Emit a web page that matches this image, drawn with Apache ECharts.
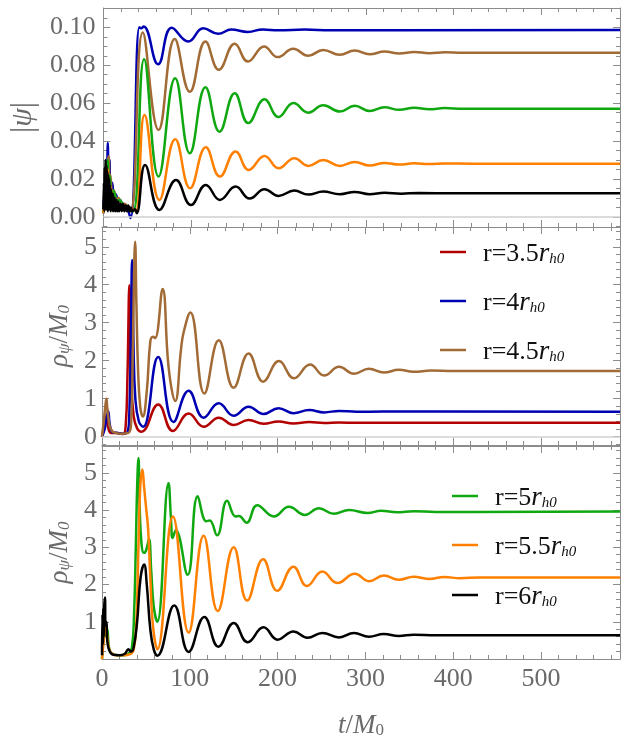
<!DOCTYPE html>
<html><head><meta charset="utf-8">
<script src="https://cdn.jsdelivr.net/npm/echarts@6/dist/echarts.min.js"></script>
<style>html,body{margin:0;padding:0;background:#fff}#c{width:621px;height:740px}</style>
</head><body><div id="c"></div>
<script>
// ---------------- data ----------------
const tickX = [0, 100, 200, 300, 400, 500];
const tickXLabels = ['0', '100', '200', '300', '400', '500'];
const tickPsi = [0, 0.02, 0.04, 0.06, 0.08, 0.10];
const tickPsiLabels = ['0.00', '0.02', '0.04', '0.06', '0.08', '0.10'];
const tickRhoMid = [0, 1, 2, 3, 4, 5];
const tickRhoBot = [1, 2, 3, 4, 5];

const legendNumbers = ['3.5', '4', '4.5', '5', '5.5', '6'];
const seriesNames = ['r=3.5rh0', 'r=4rh0', 'r=4.5rh0', 'r=5rh0', 'r=5.5rh0', 'r=6rh0'];

// |psi| panel  ([t/M0, |psi|])
const psi_r4 = [[0,0.002],[1,0.012],[2,0.006],[3,0.022],[4,0.012],[5,0.039],[6,0.016],[7,0.03],[8,0.014],[10,0.018],[12,0.01],[14,0.012],[17,0.008],[19,0.009],[23,0.005],[25,0.0055],[31,-0.0005],[41,0.1],[43,0.0995],[46,0.1005],[62.5,0.0805],[78,0.0998],[97,0.0925],[114,0.0995],[131,0.0966],[146,0.0988],[165,0.0976],[182,0.0989],[200,0.0984],[230,0.0988],[260,0.0985],[590,0.0986]];
const psi_r45 = [[0,0.002],[2,0.012],[3,0.02],[4,0.01],[5,0.028],[6,0.032],[7,0.018],[8,0.022],[10,0.012],[12,0.014],[15,0.009],[17,0.01],[22,0.006],[24,0.007],[31,0.003],[45,0.0973],[63,0.0459],[81.5,0.0938],[98.7,0.066],[116.6,0.0925],[131.8,0.0776],[150,0.0913],[165,0.082],[183.6,0.0899],[199,0.0843],[216.8,0.0887],[234,0.085],[251,0.0881],[270,0.0855],[287,0.0878],[304,0.0858],[321,0.0872],[338,0.0862],[355,0.087],[372,0.0864],[390,0.0868],[410,0.0866],[590,0.0866]];
const psi_r5 = [[0,0.002],[2,0.014],[3,0.02],[4,0.012],[5,0.03],[6,0.02],[7,0.022],[9,0.013],[11,0.014],[16,0.008],[18,0.009],[25,0.005],[27,0.0055],[34,0.003],[46.5,0.0832],[63,0.0213],[82,0.0732],[98.7,0.0336],[116.6,0.0684],[132.6,0.045],[150,0.0653],[165.5,0.0495],[184,0.0621],[200,0.0527],[217,0.0601],[234,0.055],[251,0.0589],[270,0.0556],[287,0.0586],[304,0.0559],[321,0.0578],[338,0.0565],[355,0.0576],[372,0.0568],[390,0.0574],[410,0.057],[590,0.057]];
const psi_r55 = [[0,0.002],[2,0.012],[3,0.02],[4,0.01],[5,0.025],[6,0.014],[8,0.016],[10,0.009],[12,0.01],[18,0.006],[20,0.0065],[30,0.004],[32,0.0045],[37,0.003],[47,0.0538],[64,0.009],[82,0.041],[99,0.0151],[117,0.0368],[133,0.0213],[151,0.0345],[166,0.0248],[184,0.0322],[200,0.0257],[218,0.031],[234,0.0269],[251,0.0301],[270,0.0269],[287,0.029],[304,0.0271],[321,0.0285],[338,0.0276],[355,0.0283],[372,0.0279],[390,0.0282],[420,0.0281],[590,0.0281]];
const psi_r6 = [[0,0.004],[0.5,0.018],[1,0.003],[1.5,0.026],[2,0.005],[2.5,0.03],[3,0.004],[3.5,0.027],[4,0.006],[4.5,0.024],[5,0.003],[5.5,0.022],[6,0.005],[6.5,0.02],[7,0.004],[7.5,0.017],[8,0.003],[8.5,0.015],[9,0.004],[9.5,0.013],[10,0.003],[11,0.012],[12,0.003],[13,0.01],[14,0.003],[15,0.009],[16,0.003],[17,0.008],[18,0.003],[19.5,0.007],[21,0.003],[22.5,0.007],[24,0.003],[25.5,0.006],[27,0.003],[28.5,0.006],[30,0.003],[31.5,0.005],[33,0.003],[36,0.004],[38,0.002],[47.6,0.0274],[64,0.0037],[83,0.0195],[100,0.0063],[117,0.0169],[133,0.009],[151,0.016],[167,0.0097],[184,0.0146],[200,0.0111],[218,0.0139],[234,0.0118],[251,0.0134],[270,0.012],[287,0.0132],[304,0.012],[321,0.0128],[340,0.0123],[360,0.0126],[400,0.0125],[590,0.0125]];

// rho panels  ([t/M0, rho/M0])
const rho_r35 = [[0,0],[2.5,0.3],[5,0.55],[7,0.25],[10,0.1],[17,0.1],[24,0.07],[27,0.3],[29,1.6],[31.2,3.99],[33,1.6],[36,0.55],[40,0.22],[45,0.13],[64,0.85],[80.7,0.15],[98.7,0.61],[116,0.26],[133,0.5],[150,0.31],[167,0.44],[184,0.34],[201,0.4],[218,0.35],[236,0.385],[253,0.36],[270,0.375],[290,0.365],[320,0.37],[590,0.37]];
const rho_r4 = [[0,0],[3,0.2],[5,0.45],[7,0.68],[9,0.3],[12,0.12],[18,0.1],[24,0.08],[29,0.12],[31,0.5],[32.8,2.5],[34.3,4.65],[35.8,2.5],[38,1.0],[42,0.4],[47,0.26],[64,2.1],[81.5,0.39],[98.7,1.21],[115.8,0.5],[133,0.88],[150,0.55],[167,0.79],[184,0.6],[201,0.75],[218,0.62],[236,0.7],[253,0.64],[270,0.68],[290,0.655],[320,0.665],[590,0.66]];
const rho_r45 = [[0,0],[2,0.4],[4,0.85],[5,1.0],[6,0.75],[7.5,0.45],[10,0.2],[15,0.1],[22,0.08],[30,0.1],[33,0.3],[34.8,1.8],[36.3,4.0],[37.7,5.13],[39.2,3.5],[41,1.8],[43.5,0.8],[46.5,0.53],[51,1.2],[55,2.5],[58,2.63],[60.5,2.6],[69,3.89],[76,1.8],[83.4,0.94],[90,2.3],[93,2.75],[100.6,3.27],[116.6,1.14],[133,2.54],[150,1.29],[167,2.19],[183.6,1.45],[201.5,1.99],[218.7,1.54],[237,1.9],[253,1.61],[270,1.84],[287,1.66],[304,1.79],[321,1.69],[338,1.76],[355,1.71],[375,1.74],[400,1.73],[590,1.73]];
const rho_r5 = [[0,0],[1.5,0.5],[3,1.05],[4.5,0.6],[6,0.8],[8,0.3],[11,0.15],[18,0.1],[25,0.1],[30,0.14],[34,0.3],[36.5,1.2],[38.5,3.0],[40,4.6],[41.5,5.4],[43,4.0],[45,3.1],[47.5,2.85],[50,2.9],[53.5,3.22],[56,2.4],[59,1.4],[63,1.0],[75.8,4.72],[78.5,3.8],[80.5,3.25],[84,3.46],[97.5,2.26],[109,4.37],[118.8,3.7],[122.7,3.72],[131,3.32],[142.5,4.25],[152,3.83],[156,3.84],[164.6,3.66],[176.8,4.13],[195.8,3.83],[213,4.09],[231,3.87],[247,4.05],[264,3.9],[281.5,4.0],[302.5,3.92],[318,3.98],[336,3.94],[355,3.97],[380,3.95],[590,3.96]];
const rho_r55 = [[0,0],[2,0.5],[4,0.9],[5.5,0.7],[7,0.4],[10,0.18],[16,0.1],[24,0.1],[32,0.13],[36,0.25],[39,0.9],[41.5,3.0],[43.5,4.6],[46,5.09],[48,4.6],[50.5,4.0],[52.5,3.5],[55,2.2],[58,0.9],[63,0.26],[80.8,3.83],[98.7,0.71],[115.8,3.31],[131.8,1.29],[150,3.0],[165.3,1.57],[183.6,2.68],[199.6,1.83],[218,2.48],[233.5,1.96],[251,2.35],[268,2.04],[288,2.29],[304,2.09],[321,2.24],[338,2.13],[355,2.21],[372,2.15],[390,2.2],[408,2.17],[430,2.19],[590,2.19]];
const rho_r6 = [[0,0.1],[0.5,1.2],[1,0.4],[1.5,1.35],[2,0.6],[2.5,1.4],[3.4,1.65],[4,0.9],[5,1.0],[6,0.5],[8,0.25],[12,0.12],[20,0.1],[26,0.14],[30,0.26],[33,0.2],[36,0.3],[40,1.0],[44,2.2],[48,2.54],[51,2.0],[55,0.8],[59,0.25],[63,0.09],[82.3,1.44],[98.7,0.19],[116.6,1.13],[132.6,0.33],[150,0.97],[166,0.45],[184,0.85],[200,0.52],[218,0.74],[234,0.57],[251,0.7],[270,0.58],[287,0.7],[304,0.6],[321,0.67],[338,0.62],[355,0.65],[380,0.635],[590,0.635]];

// ---------------- styling / layout ----------------
const COLORS = {r35:'#b30000', r4:'#0000b3', r45:'#a26b35', r5:'#10a810', r55:'#ff8000', r6:'#000000'};
const FONT = 'Liberation Serif';
const GRAY = '#6a6a6a';
const FRAME = '#8c8c8c';
const X_RANGE = [0, 590];
const PANELS = [
  {top: 8,   height: 219, min: -0.0053, max: 0.1102},
  {top: 227, height: 218, min: -0.218,  max: 5.52},
  {top: 446, height: 219, min: 0,       max: 5.72}
];

function minorList(step, kFrom, kTo, every) {
  const out = [];
  for (let k = kFrom; k <= kTo; k++) if (k % every !== 0) out.push(+(k * step).toFixed(6));
  return out;
}
const xMinor = minorList(20, 1, 29, 5);
const psiMinor = minorList(0.005, -1, 22, 4);
const rhoMidMinor = minorList(0.2, -1, 27, 5);
const rhoBotMinor = minorList(0.2, 1, 28, 5);

function baseAxis(gi, pos, min, max, ticks, len, showLine) {
  return {
    type: 'value', gridIndex: gi, position: pos, min: min, max: max,
    axisLine: {show: showLine, onZero: false, lineStyle: {color: FRAME, width: 1}},
    axisTick: {show: true, inside: true, length: len, customValues: ticks, lineStyle: {color: FRAME, width: 1}},
    axisLabel: {show: false},
    splitLine: {show: false}, minorTick: {show: false}
  };
}

const majorY = [tickPsi, tickRhoMid, tickRhoBot];
const minorY = [psiMinor, rhoMidMinor, rhoBotMinor];
const xAxes = [], yAxes = [], grids = [];
PANELS.forEach((p, gi) => {
  grids.push({left: 102, width: 518, top: p.top, height: p.height, containLabel: false});
  const xb = baseAxis(gi, 'bottom', X_RANGE[0], X_RANGE[1], tickX, 7, true);
  if (gi === 2) {
    xb.axisLabel = {show: true, customValues: tickX, margin: 7, color: GRAY, fontFamily: FONT, fontSize: 26,
      formatter: v => tickXLabels[tickX.indexOf(v)]};
    xb.name = '{i|t}{n|/}{i|M}{s|0}';
    xb.nameLocation = 'middle';
    xb.nameGap = 50;
    xb.nameTextStyle = {color: GRAY, fontFamily: FONT, fontSize: 26, rich: {
      i: {fontFamily: FONT, fontStyle: 'italic', fontSize: 27, color: GRAY, lineHeight: 30, verticalAlign: 'bottom'},
      n: {fontFamily: FONT, fontSize: 27, color: GRAY, lineHeight: 30, verticalAlign: 'bottom'},
      s: {fontFamily: FONT, fontSize: 17, color: GRAY, lineHeight: 15, verticalAlign: 'bottom'}}};
  }
  xAxes.push(xb);
  xAxes.push(baseAxis(gi, 'bottom', X_RANGE[0], X_RANGE[1], xMinor, 4, false));
  xAxes.push(baseAxis(gi, 'top', X_RANGE[0], X_RANGE[1], tickX, 7, true));
  xAxes.push(baseAxis(gi, 'top', X_RANGE[0], X_RANGE[1], xMinor, 4, false));
  const yl = baseAxis(gi, 'left', p.min, p.max, majorY[gi], 7, true);
  yl.axisLabel = {show: true, customValues: majorY[gi], margin: gi === 0 ? 8 : 5, color: GRAY, fontFamily: FONT, fontSize: 26,
    formatter: gi === 0 ? (v => tickPsiLabels[tickPsi.indexOf(v)]) : (v => String(v))};
  yl.nameLocation = 'middle';
  if (gi === 0) {
    yl.name = '|{i|ψ}|';
    yl.nameGap = 63;
    yl.nameTextStyle = {color: GRAY, fontFamily: FONT, fontSize: 31, rich: {
      i: {fontFamily: FONT, fontStyle: 'italic', fontSize: 30, color: GRAY}}};
  } else {
    yl.name = '{i|ρ}{s|ψ}{n|/}{i|M}{s|0}';
    yl.nameGap = 23;
    yl.nameTextStyle = {color: GRAY, fontFamily: FONT, fontSize: 27, rich: {
      i: {fontFamily: FONT, fontStyle: 'italic', fontSize: 27, color: GRAY, lineHeight: 30, verticalAlign: 'bottom'},
      n: {fontFamily: FONT, fontSize: 27, color: GRAY, lineHeight: 30, verticalAlign: 'bottom'},
      s: {fontFamily: FONT, fontStyle: 'italic', fontSize: 17, color: GRAY, lineHeight: 14, verticalAlign: 'bottom'}}};
  }
  yAxes.push(yl);
  yAxes.push(baseAxis(gi, 'left', p.min, p.max, minorY[gi], 4, false));
  yAxes.push(baseAxis(gi, 'right', p.min, p.max, majorY[gi], 7, true));
  yAxes.push(baseAxis(gi, 'right', p.min, p.max, minorY[gi], 4, false));
});

function line(name, gi, data, color, extra) {
  return Object.assign({
    type: 'line', name: name, xAxisIndex: gi * 4, yAxisIndex: gi * 4, data: data,
    showSymbol: false, symbol: 'none', smooth: 0.45,
    lineStyle: {color: color, width: 2.5}, itemStyle: {color: color},
    emphasis: {disabled: true}, animation: false
  }, extra || {});
}
const zeroLine = {silent: true, symbol: 'none', label: {show: false},
  lineStyle: {color: '#d0d0d0', width: 1.5, type: 'solid'}, data: [{yAxis: 0}]};

const series = [
  line('|ψ| ' + seriesNames[1], 0, psi_r4, COLORS.r4, {markLine: zeroLine}),
  line('|ψ| ' + seriesNames[2], 0, psi_r45, COLORS.r45),
  line('|ψ| ' + seriesNames[3], 0, psi_r5, COLORS.r5),
  line('|ψ| ' + seriesNames[4], 0, psi_r55, COLORS.r55),
  line('|ψ| ' + seriesNames[5], 0, psi_r6, COLORS.r6),
  line(seriesNames[0], 1, rho_r35, COLORS.r35, {markLine: zeroLine}),
  line(seriesNames[1], 1, rho_r4, COLORS.r4),
  line(seriesNames[2], 1, rho_r45, COLORS.r45),
  line(seriesNames[3], 2, rho_r5, COLORS.r5),
  line(seriesNames[4], 2, rho_r55, COLORS.r55),
  line(seriesNames[5], 2, rho_r6, COLORS.r6)
];

const legendPos = [[440, 252], [440, 301], [440, 350], [452, 496], [452, 545], [452, 595]];
const legends = seriesNames.map((nm, i) => ({
  data: [nm], left: legendPos[i][0], top: legendPos[i][1] - 15, orient: 'vertical',
  icon: 'rect', itemWidth: 26, itemHeight: 2.5, padding: 0, itemGap: 0, selectedMode: false,
  formatter: () => '{g|}{n|r=' + legendNumbers[i] + '}{r|r}{s|h0}',
  textStyle: {color: '#111', fontFamily: FONT, fontSize: 26, lineHeight: 30, rich: {
    g: {width: 12, lineHeight: 30},
    n: {fontFamily: FONT, fontSize: 26, color: '#111', lineHeight: 30, verticalAlign: 'bottom'},
    r: {fontFamily: FONT, fontStyle: 'italic', fontSize: 27, color: '#111', lineHeight: 30, verticalAlign: 'bottom'},
    s: {fontFamily: FONT, fontStyle: 'italic', fontSize: 15, color: '#111', lineHeight: 14, verticalAlign: 'bottom'}}}
}));

const chart = echarts.init(document.getElementById('c'), null, {renderer: 'canvas'});
chart.setOption({
  backgroundColor: '#ffffff',
  animation: false,
  grid: grids,
  xAxis: xAxes,
  yAxis: yAxes,
  legend: legends,
  series: series
});
</script>
</body></html>
